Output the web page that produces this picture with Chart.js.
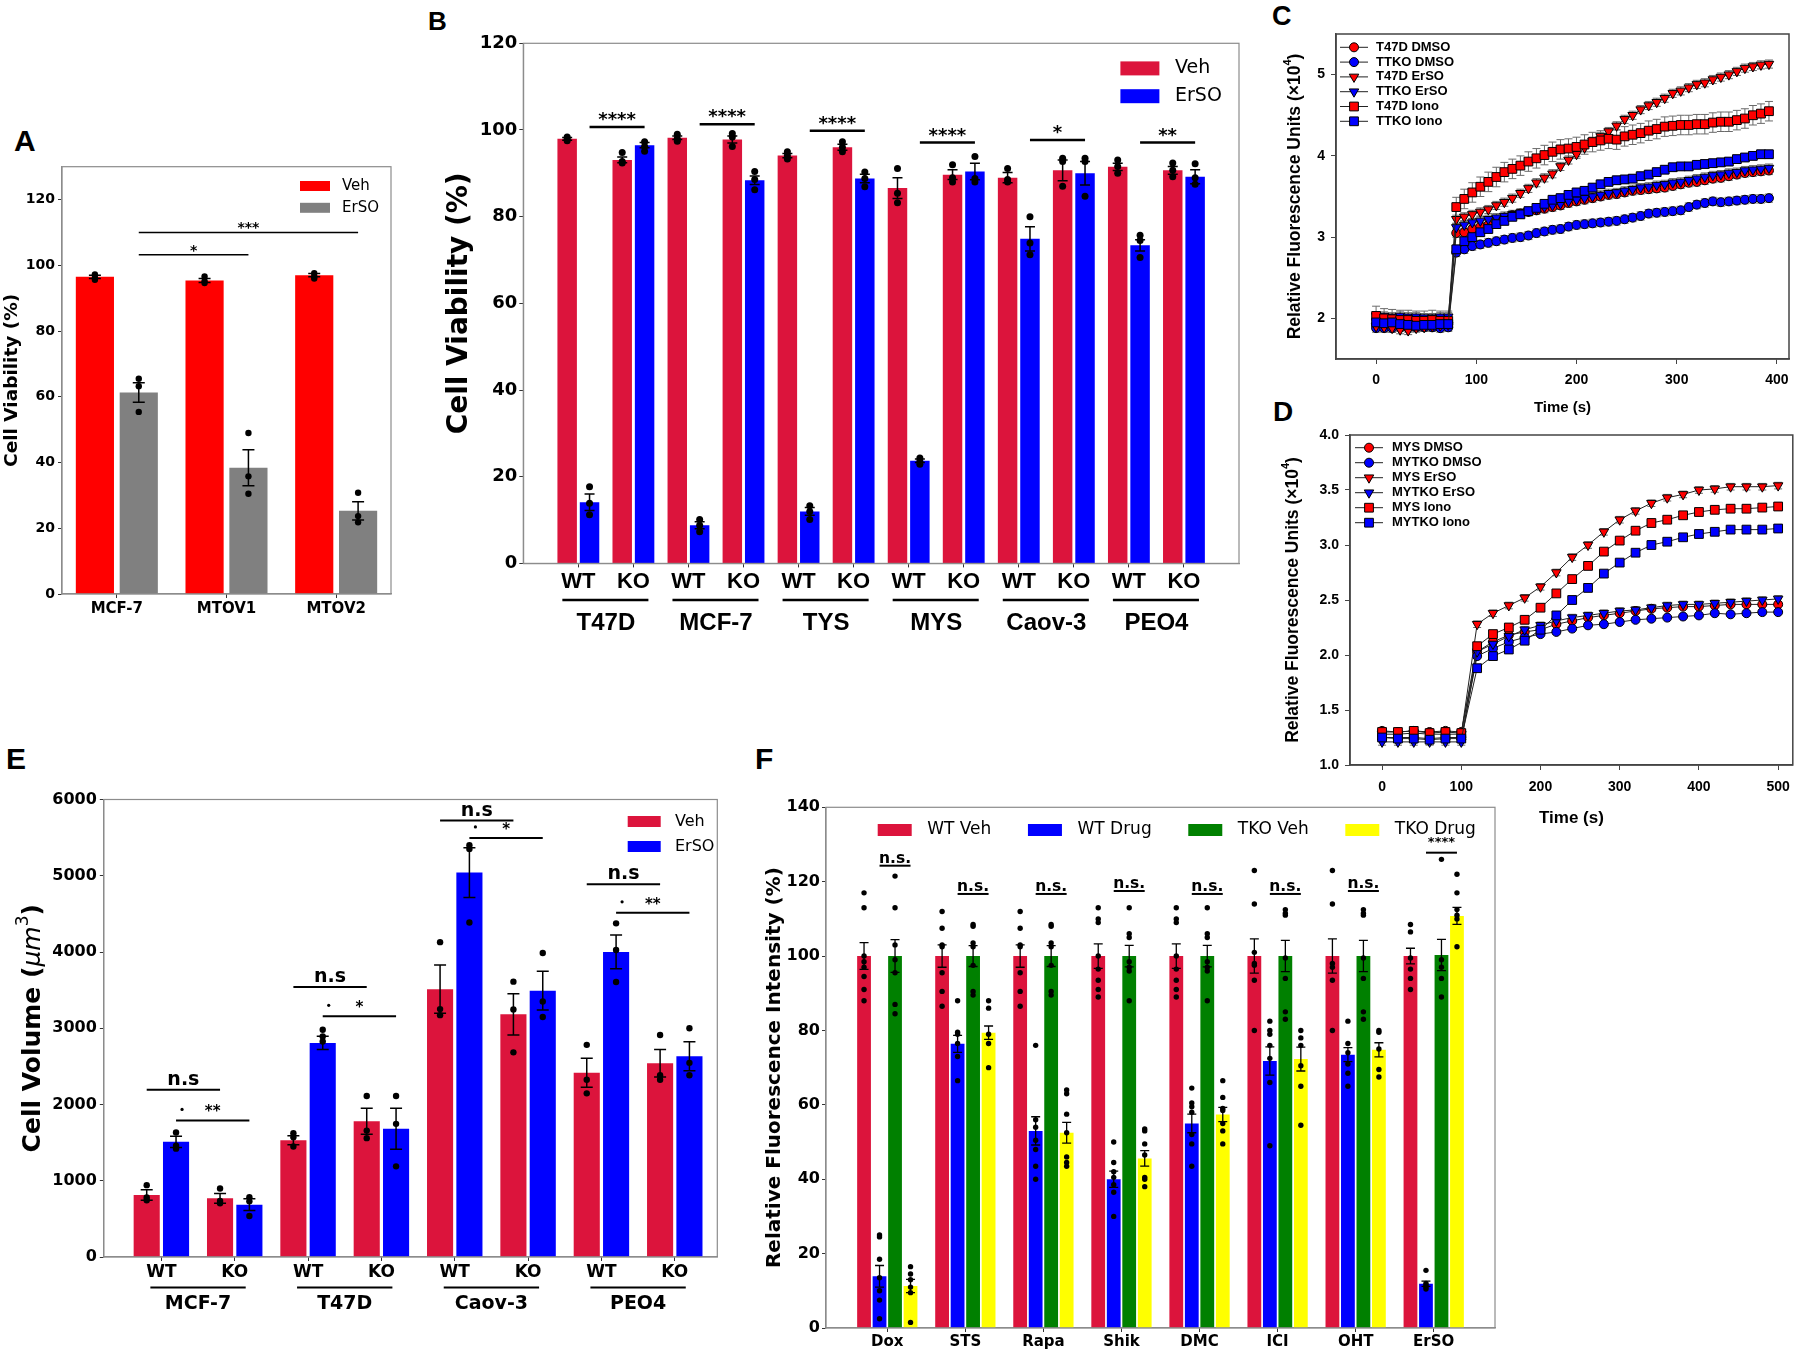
<!DOCTYPE html>
<html>
<head>
<meta charset="utf-8">
<title>ErSO figure</title>
<script src="https://cdn.jsdelivr.net/npm/chart.js@4.4.1/dist/chart.umd.min.js"></script>
<style>
  body { margin: 0; background: #fff; width: 1800px; height: 1350px; position: relative; overflow: hidden; }
  canvas { position: absolute; }
  .lab { position: absolute; font-family: 'Liberation Sans', Arial, sans-serif; font-weight: bold; line-height: 1; color: #000; }
</style>
</head>
<body>
<div class="lab" style="left:14px;top:126px;font-size:30px">A</div>
<div class="lab" style="left:428px;top:8px;font-size:26px">B</div>
<div class="lab" style="left:1272px;top:3px;font-size:27px">C</div>
<div class="lab" style="left:1273px;top:398px;font-size:28px">D</div>
<div class="lab" style="left:6px;top:744px;font-size:30px">E</div>
<div class="lab" style="left:755px;top:744px;font-size:30px">F</div>

<canvas id="chartA" width="400" height="500" style="left:0;top:140px"></canvas>
<canvas id="chartB" width="830" height="680" style="left:420px;top:0"></canvas>
<canvas id="chartC" width="520" height="430" style="left:1280px;top:0"></canvas>
<canvas id="chartD" width="520" height="420" style="left:1280px;top:420px"></canvas>
<canvas id="chartE" width="740" height="610" style="left:0;top:740px"></canvas>
<canvas id="chartF" width="1060" height="570" style="left:740px;top:780px"></canvas>

<script>
// ---- Panel A: cell viability, MCF-7 / MTOV lines
const catsA = ['MCF-7', 'MTOV1', 'MTOV2'];
const vehA = [96.5, 95.4, 97.0];
const ersoA = [61.3, 38.4, 25.3];
const vehAErr = [0.5, 0.6, 0.5];
const ersoAErr = [3.0, 5.5, 2.8];
const vehADots = [[97.2, 96.2, 95.6], [96.6, 95.2, 94.6], [97.6, 96.6, 96.0]];
const ersoADots = [[65.5, 63.2, 55.4], [49.0, 35.8, 30.5], [30.8, 23.7, 21.8]];
const sigAEnd = [1, 2];
const sigAY = [103.2, 110];
const sigALabel = ['*', '***'];

// ---- Panel B: WT vs KO viability
const groupsB = ['WT', 'KO', 'WT', 'KO', 'WT', 'KO', 'WT', 'KO', 'WT', 'KO', 'WT', 'KO'];
const linesB = ['T47D', 'MCF-7', 'TYS', 'MYS', 'Caov-3', 'PEO4'];
const vehB = [97.95, 93.1, 98.2, 97.8, 94.1, 96.0, 86.6, 89.7, 89.0, 90.7, 91.5, 90.7];
const ersoB = [14.1, 96.5, 8.8, 88.4, 12.0, 88.8, 23.7, 90.4, 74.9, 90.0, 73.4, 89.2];
const vehBErr = [0.3, 0.65, 0.4, 0.8, 0.5, 0.7, 2.4, 1.1, 1.2, 2.4, 0.85, 0.9];
const ersoBErr = [1.9, 0.6, 0.8, 1.0, 0.9, 1.0, 0.4, 1.9, 2.8, 2.7, 1.3, 1.6];
const vehBDots = [[98.4, 97.9, 97.5], [94.8, 92.7, 92.4], [99.0, 98.0, 97.4], [99.2, 98.4, 96.2],
  [95.0, 94.1, 93.3], [97.3, 96.0, 95.0], [91.1, 85.4, 83.2], [92.0, 89.0, 88.0],
  [91.1, 88.6, 88.0], [93.5, 92.7, 87.0], [93.1, 91.6, 90.0], [92.4, 90.7, 89.2]];
const ersoBDots = [[17.7, 13.9, 11.2], [97.3, 96.2, 95.1], [10.1, 8.8, 7.3], [90.4, 88.6, 86.2],
  [13.3, 12.0, 10.1], [90.3, 88.8, 86.9], [24.3, 23.5, 22.9], [93.9, 88.8, 88.0],
  [80.0, 73.9, 71.2], [93.5, 92.7, 84.7], [75.7, 74.5, 70.6], [92.2, 89.0, 87.5]];
const sigBY = [100.7, 101.3, 99.8, 97.1, 97.7, 97.1];
const sigBLabel = ['****', '****', '****', '****', '*', '**'];

// ---- Panel C: T47D / TTKO calcium traces
const timeC = [0, 8, 16, 24, 32, 40, 48, 56, 64, 72, 80, 88, 96, 104, 112, 120, 128, 136, 144, 152,
  160, 168, 176, 184, 192, 200, 208, 216, 224, 232, 240, 248, 256, 264, 272, 280, 288, 296, 304, 312,
  320, 328, 336, 344, 352, 360, 368, 376, 384, 392];
const t47dDmsoC = [1.93, 1.92, 1.92, 1.91, 1.90, 1.91, 1.92, 1.92, 1.93, 1.93, 3.05, 3.06, 3.10, 3.13, 3.15, 3.20, 3.24, 3.27, 3.29, 3.31,
  3.33, 3.35, 3.37, 3.39, 3.42, 3.44, 3.46, 3.48, 3.50, 3.52, 3.53, 3.55, 3.57, 3.58, 3.59, 3.60, 3.61, 3.63, 3.65, 3.67,
  3.68, 3.70, 3.72, 3.73, 3.75, 3.77, 3.79, 3.80, 3.81, 3.82];
const ttkoDmsoC = [1.88, 1.88, 1.88, 1.89, 1.88, 1.89, 1.89, 1.89, 1.88, 1.89, 2.81, 2.85, 2.89, 2.91, 2.93, 2.95, 2.97, 2.99, 3.00, 3.02,
  3.05, 3.07, 3.09, 3.10, 3.13, 3.15, 3.16, 3.17, 3.18, 3.19, 3.20, 3.22, 3.24, 3.26, 3.29, 3.30, 3.31, 3.32, 3.33, 3.37,
  3.40, 3.42, 3.44, 3.43, 3.44, 3.45, 3.46, 3.47, 3.47, 3.48];
const t47dErsoC = [1.90, 1.89, 1.88, 1.86, 1.85, 1.88, 1.89, 1.90, 1.91, 1.92, 3.22, 3.25, 3.28, 3.31, 3.34, 3.39, 3.43, 3.48, 3.54, 3.60,
  3.67, 3.73, 3.78, 3.87, 3.95, 4.02, 4.10, 4.18, 4.24, 4.30, 4.37, 4.45, 4.50, 4.57, 4.62, 4.66, 4.71, 4.77, 4.80, 4.84,
  4.88, 4.90, 4.94, 4.97, 5.00, 5.04, 5.08, 5.10, 5.12, 5.13];
const ttkoErsoC = [2.03, 2.03, 2.02, 2.03, 2.02, 2.02, 2.01, 2.01, 2.02, 2.02, 3.12, 3.15, 3.18, 3.20, 3.22, 3.24, 3.26, 3.28, 3.30, 3.32,
  3.34, 3.37, 3.39, 3.41, 3.44, 3.46, 3.48, 3.50, 3.52, 3.54, 3.55, 3.57, 3.59, 3.61, 3.62, 3.64, 3.65, 3.67, 3.68, 3.70,
  3.72, 3.74, 3.76, 3.77, 3.79, 3.80, 3.82, 3.83, 3.84, 3.85];
const t47dIonoC = [2.03, 2.00, 1.99, 1.98, 1.98, 1.97, 1.97, 1.98, 1.97, 1.97, 3.37, 3.47, 3.55, 3.62, 3.68, 3.74, 3.80, 3.84, 3.88, 3.93,
  3.97, 4.01, 4.05, 4.08, 4.09, 4.11, 4.14, 4.17, 4.19, 4.21, 4.20, 4.24, 4.26, 4.28, 4.31, 4.33, 4.36, 4.37, 4.38, 4.38,
  4.39, 4.39, 4.41, 4.42, 4.42, 4.44, 4.46, 4.50, 4.52, 4.55];
const ttkoIonoC = [1.95, 1.94, 1.95, 1.93, 1.92, 1.91, 1.92, 1.92, 1.93, 1.93, 2.85, 2.95, 3.00, 3.06, 3.10, 3.16, 3.20, 3.25, 3.28, 3.32,
  3.36, 3.41, 3.46, 3.48, 3.52, 3.55, 3.57, 3.61, 3.65, 3.68, 3.70, 3.71, 3.72, 3.75, 3.77, 3.80, 3.83, 3.86, 3.87, 3.87,
  3.89, 3.90, 3.91, 3.92, 3.93, 3.96, 3.98, 4.00, 4.02, 4.02];
const namesC = ['T47D DMSO', 'TTKO DMSO', 'T47D ErSO', 'TTKO ErSO', 'T47D Iono', 'TTKO Iono'];
const errC = [0.05, 0.05, 0.05, 0.05, 0.12, 0.05];
const xTicksC = [0, 100, 200, 300, 400];
const yTicksC = [2, 3, 4, 5];

// ---- Panel D: MYS / MYTKO calcium traces
const timeD = [0, 20, 40, 60, 80, 100, 120, 140, 160, 180, 200, 220, 240, 260, 280, 300, 320, 340, 360, 380, 400, 420, 440, 460, 480, 500];
const mysDmsoD = [1.31, 1.30, 1.31, 1.30, 1.31, 1.30, 2.03, 2.12, 2.18, 2.21, 2.23, 2.28, 2.31, 2.34, 2.36, 2.38, 2.40, 2.42, 2.43, 2.44, 2.44, 2.45, 2.46, 2.46, 2.46, 2.46];
const mytkoDmsoD = [1.25, 1.25, 1.25, 1.24, 1.25, 1.25, 1.99, 2.06, 2.12, 2.16, 2.19, 2.21, 2.24, 2.27, 2.28, 2.30, 2.32, 2.33, 2.34, 2.35, 2.36, 2.38, 2.37, 2.38, 2.39, 2.39];
const mysErsoD = [1.28, 1.28, 1.29, 1.28, 1.28, 1.28, 2.28, 2.38, 2.45, 2.52, 2.62, 2.75, 2.89, 3.00, 3.12, 3.23, 3.31, 3.38, 3.43, 3.46, 3.50, 3.51, 3.53, 3.53, 3.53, 3.54];
const mytkoErsoD = [1.21, 1.21, 1.21, 1.21, 1.21, 1.21, 2.03, 2.10, 2.17, 2.23, 2.27, 2.31, 2.34, 2.36, 2.38, 2.40, 2.41, 2.43, 2.45, 2.46, 2.46, 2.47, 2.48, 2.49, 2.50, 2.51];
const mysIonoD = [1.30, 1.30, 1.31, 1.29, 1.30, 1.29, 2.08, 2.19, 2.25, 2.32, 2.43, 2.56, 2.69, 2.81, 2.94, 3.04, 3.13, 3.20, 3.23, 3.27, 3.30, 3.32, 3.33, 3.33, 3.34, 3.35];
const mytkoIonoD = [1.25, 1.24, 1.24, 1.23, 1.24, 1.24, 1.88, 1.99, 2.05, 2.13, 2.23, 2.36, 2.50, 2.61, 2.74, 2.84, 2.93, 3.00, 3.03, 3.07, 3.10, 3.12, 3.14, 3.14, 3.14, 3.15];
const namesD = ['MYS DMSO', 'MYTKO DMSO', 'MYS ErSO', 'MYTKO ErSO', 'MYS Iono', 'MYTKO Iono'];
const errD = [0.01, 0.01, 0.03, 0.03, 0.015, 0.015];
const xTicksD = [0, 100, 200, 300, 400, 500];
const yTicksD = [1.0, 1.5, 2.0, 2.5, 3.0, 3.5, 4.0];

// ---- Panel E: cell volume
const groupsE = ['WT', 'KO', 'WT', 'KO', 'WT', 'KO', 'WT', 'KO'];
const linesE = ['MCF-7', 'T47D', 'Caov-3', 'PEO4'];
const vehE = [814, 770, 1530, 1781, 3513, 3182, 2417, 2541];
const ersoE = [1510, 686, 2807, 1682, 5042, 3493, 4001, 2634];
const vehEErr = [69, 64, 59, 170, 315, 270, 190, 180];
const ersoEErr = [74, 77, 87, 270, 326, 255, 222, 190];
const vehEDots = [[942, 780, 745], [898, 735, 705], [1623, 1569, 1450], [2111, 1658, 1559],
  [4129, 3251, 3172], [3611, 3246, 2684], [2782, 2324, 2146], [2911, 2383, 2324]];
const ersoEDots = [[1633, 1460, 1421], [784, 730, 538], [2980, 2891, 2827], [2111, 1746, 1189],
  [5400, 5350, 4386], [3986, 3350, 3148], [4376, 4026, 3606], [3000, 2546, 2383]];
const nsEY = [2195, 3542, 5723, 4889];
const starEY = [1791, 3157, 5496, 4514];
const starELabel = ['**', '*', '*', '**'];

// ---- Panel F: relative fluorescence per drug
const drugsF = ['Dox', 'STS', 'Rapa', 'Shik', 'DMC', 'ICI', 'OHT', 'ErSO'];
const wtVehF = [100, 100, 100, 100, 100, 100, 100, 100];
const wtDrugF = [13.9, 76.4, 53.0, 40.0, 55.0, 71.8, 73.5, 11.9];
const tkoVehF = [100, 100, 100, 100, 100, 100, 100, 100.3];
const tkoDrugF = [11.3, 79.4, 52.5, 45.6, 57.4, 72.3, 74.8, 110.8];
const wtVehErrF = [3.6, 3.0, 3.0, 3.3, 3.3, 4.6, 4.6, 2.1];
const wtDrugErrF = [2.9, 2.3, 3.8, 2.2, 2.5, 3.8, 1.9, 0.7];
const tkoVehErrF = [4.4, 2.8, 2.8, 2.9, 2.9, 4.2, 4.2, 4.2];
const tkoDrugErrF = [1.8, 1.8, 2.8, 2.1, 1.9, 3.2, 1.9, 2.3];
const wtVehDotsF = [[117, 113, 100, 98.5, 97, 94.5, 91, 88], [112, 107.5, 103, 102.5, 95.5, 90.5, 86.5],
  [112, 107.5, 103, 102.5, 95.5, 90.5, 86.5], [113, 110, 109, 100, 96.5, 93.5, 91, 89],
  [113, 110, 109, 100, 96.5, 93.5, 91, 89], [123, 114, 101, 98, 97.5, 93.5, 80],
  [123, 114, 98, 97, 93.5, 80], [108.5, 106.5, 99.5, 96.5, 94, 91]];
const wtDrugDotsF = [[25, 24.5, 18.5, 13.5, 10, 7.5, 2.5], [88, 79.5, 79, 76.5, 73, 66.5],
  [76, 56, 54, 50.5, 48, 43.5, 40], [50, 44.5, 42, 40.5, 38.5, 36.5, 30],
  [64.5, 60.5, 59.5, 58, 52, 49.5, 43.5], [82.5, 80, 79, 76, 72.5, 66, 49],
  [82.5, 76.5, 74, 71, 68.5, 65], [15.5, 12, 11.5, 11, 10.5]];
const tkoVehDotsF = [[121.5, 113, 103, 99, 95.5, 87, 84.5], [108.5, 108, 103.5, 102.5, 97.5, 90.5, 89.5],
  [108.5, 108, 103.5, 102.5, 97.5, 90.5, 89.5], [113, 106, 105, 98.5, 97, 96, 88],
  [113, 106, 105, 98.5, 97, 96, 88], [112.5, 111.5, 111, 99.5, 94, 85, 83],
  [112.5, 111.5, 111, 99.5, 94, 85, 83], [126, 99, 97, 94, 89]];
const tkoDrugDotsF = [[16.5, 14.5, 13, 11, 9.5, 1.5], [88, 86, 79, 76.5, 70],
  [64, 63, 57.5, 52.5, 46, 44.5, 43.5], [53.5, 53, 49.5, 46.5, 40.5, 40, 38],
  [66.5, 62, 59, 58.5, 55, 53, 49.5], [80, 78, 76, 70.5, 65, 54.5],
  [80, 79.5, 75, 69.5, 67.5], [122, 117, 112.5, 111, 110, 102.5]];
const nsFY = [124.3, 116.7, 116.7, 117.5, 116.7, 116.7, 117.5];
const starFY = 127.8;

const DV = "'DejaVu Sans', sans-serif";
const AR = "'Liberation Sans', Arial, sans-serif";
Chart.defaults.color = '#000';

function drawRich(ctx, parts, cx, cy, rotate) {
  ctx.save();
  ctx.translate(cx, cy);
  if (rotate) ctx.rotate(-Math.PI / 2);
  let total = 0;
  parts.forEach(pt => { ctx.font = pt.font; pt.w = ctx.measureText(pt.text).width; total += pt.w; });
  let x = -total / 2;
  ctx.textBaseline = 'middle';
  ctx.textAlign = 'left';
  ctx.fillStyle = '#000';
  parts.forEach(pt => { ctx.font = pt.font; ctx.fillText(pt.text, x, pt.dy || 0); x += pt.w; });
  ctx.restore();
}

function marker(ctx, shape, r, x, y, fill) {
  ctx.beginPath();
  if (shape === 'circle') {
    ctx.arc(x, y, r, 0, Math.PI * 2);
  } else if (shape === 'rect') {
    const h = r * Math.SQRT1_2;
    ctx.rect(x - h, y - h, 2 * h, 2 * h);
  } else {
    let rad = Math.PI;
    ctx.moveTo(x + Math.sin(rad) * r, y - Math.cos(rad) * r);
    rad += 2 * Math.PI / 3;
    ctx.lineTo(x + Math.sin(rad) * r, y - Math.cos(rad) * r);
    rad += 2 * Math.PI / 3;
    ctx.lineTo(x + Math.sin(rad) * r, y - Math.cos(rad) * r);
    ctx.closePath();
  }
  ctx.fillStyle = fill;
  ctx.fill();
  ctx.strokeStyle = '#000';
  ctx.lineWidth = 1;
  ctx.stroke();
}

// bar panels: error bars, dots, frame, legend, significance, titles
function barDecor(p) {
  return {
    id: 'barDecor',
    afterDatasetsDraw(chart) {
      const ctx = chart.ctx, ys = chart.scales.y;
      ctx.save();
      p.sets.forEach((s, di) => {
        chart.getDatasetMeta(di).data.forEach((bar, i) => {
          const x = bar.x, v = s.data[i], e = s.err[i];
          const y1 = ys.getPixelForValue(v + e), y2 = ys.getPixelForValue(v - e);
          ctx.strokeStyle = '#000';
          ctx.lineWidth = p.errW;
          ctx.beginPath();
          ctx.moveTo(x, y1); ctx.lineTo(x, y2);
          ctx.moveTo(x - p.cap, y1); ctx.lineTo(x + p.cap, y1);
          ctx.moveTo(x - p.cap, y2); ctx.lineTo(x + p.cap, y2);
          ctx.stroke();
          ctx.fillStyle = '#000';
          s.dots[i].forEach(d => {
            ctx.beginPath();
            ctx.arc(x, ys.getPixelForValue(d), p.dotR, 0, Math.PI * 2);
            ctx.fill();
          });
        });
      });
      ctx.restore();
    },
    afterDraw(chart) {
      const ctx = chart.ctx, a = chart.chartArea, xs = chart.scales.x, ys = chart.scales.y;
      ctx.save();
      ctx.strokeStyle = '#8c8c8c';
      ctx.lineWidth = 1.2;
      ctx.strokeRect(a.left, a.top, a.right - a.left, a.bottom - a.top);

      p.sig.forEach(g => {
        const x1 = chart.getDatasetMeta(g.d1).data[g.g1].x;
        const x2 = chart.getDatasetMeta(g.d2).data[g.g2].x;
        const y = ys.getPixelForValue(g.y);
        ctx.strokeStyle = '#000';
        ctx.lineWidth = g.lw;
        ctx.beginPath(); ctx.moveTo(x1, y); ctx.lineTo(x2, y); ctx.stroke();
        ctx.font = g.font;
        ctx.fillStyle = '#000';
        ctx.textAlign = 'center';
        ctx.textBaseline = 'alphabetic';
        ctx.fillText(g.text, (x1 + x2) / 2, y - g.lift);
        if (g.dot) {
          ctx.beginPath(); ctx.arc(x1 + 6, y - 11, 1.6, 0, Math.PI * 2); ctx.fill();
        }
      });

      const lg = p.legend;
      ctx.font = lg.font;
      ctx.textBaseline = 'middle';
      ctx.textAlign = 'left';
      let lx = lg.horizontal ? a.left + lg.x : a.right - lg.x;
      lg.names.forEach((n, i) => {
        const ly = lg.horizontal ? a.top + lg.y : a.top + lg.y + i * lg.dy;
        ctx.fillStyle = lg.colors[i];
        ctx.fillRect(lx, ly - lg.bh / 2, lg.bw, lg.bh);
        ctx.fillStyle = '#000';
        ctx.fillText(n, lx + lg.tx, ly);
        if (lg.horizontal) lx += lg.tx + ctx.measureText(n).width + lg.gap;
      });

      drawRich(ctx, p.yTitle, p.yTitleX, (a.top + a.bottom) / 2, true);

      if (p.groups) {
        const gr = p.groups;
        gr.names.forEach((n, k) => {
          const x1 = xs.getPixelForValue(2 * k) - gr.padL;
          const x2 = xs.getPixelForValue(2 * k + 1) + gr.padR;
          ctx.strokeStyle = '#000';
          ctx.lineWidth = gr.lw;
          ctx.beginPath(); ctx.moveTo(x1, gr.y); ctx.lineTo(x2, gr.y); ctx.stroke();
          ctx.font = gr.font;
          ctx.fillStyle = '#000';
          ctx.textAlign = 'center';
          ctx.textBaseline = 'middle';
          ctx.fillText(n, (xs.getPixelForValue(2 * k) + xs.getPixelForValue(2 * k + 1)) / 2, gr.nameY);
        });
      }
      ctx.restore();
    }
  };
}

function barPanel(id, p) {
  const cv = document.getElementById(id);
  const W = cv.width, H = cv.height;
  const linearX = p.xMin !== undefined;
  const datasets = p.sets.map(s => ({
    label: s.label,
    data: linearX ? s.data.map((v, i) => ({ x: i, y: v })) : s.data,
    backgroundColor: s.color,
    borderWidth: 0,
    barPercentage: p.barPct,
    categoryPercentage: p.catPct
  }));
  const xScale = {
    offset: linearX ? false : true,
    ticks: { font: p.xFont, padding: p.xPad, color: '#000', autoSkip: false, maxRotation: 0, minRotation: 0 },
    grid: { display: true, drawOnChartArea: false, drawTicks: true, tickLength: 4, tickColor: '#333', offset: false },
    border: { display: true, color: '#8c8c8c', width: 1.2 },
    afterFit: s => { s.height = H - p.area.bottom; }
  };
  if (linearX) {
    xScale.type = 'linear';
    xScale.min = p.xMin;
    xScale.max = p.xMax;
    xScale.afterBuildTicks = s => { s.ticks = p.labels.map((_, i) => ({ value: i })); };
    xScale.ticks.callback = v => p.labels[v];
  } else {
    xScale.type = 'category';
  }
  const yScale = {
    type: 'linear',
    min: 0,
    max: p.yMax,
    afterBuildTicks: s => { s.ticks = p.yTicks.map(v => ({ value: v })); },
    ticks: { font: p.yFont, padding: p.yPad, color: '#000', callback: v => String(v) },
    grid: { display: true, drawOnChartArea: false, drawTicks: true, tickLength: 4, tickColor: '#333' },
    border: { display: true, color: '#8c8c8c', width: 1.2 },
    afterFit: s => { s.width = p.area.left; }
  };
  return new Chart(cv, {
    type: 'bar',
    data: { labels: linearX ? undefined : p.labels, datasets },
    options: {
      responsive: false,
      animation: false,
      devicePixelRatio: 1,
      layout: { padding: { left: 0, top: p.area.top, right: W - p.area.right, bottom: 0 } },
      plugins: { legend: { display: false }, tooltip: { enabled: false } },
      scales: { x: xScale, y: yScale }
    },
    plugins: [barDecor(p)]
  });
}

// line panels (C, D)
function lineDecor(p) {
  return {
    id: 'lineDecor',
    beforeDatasetsDraw(chart) {
      const ctx = chart.ctx, xs = chart.scales.x, ys = chart.scales.y;
      ctx.save();
      ctx.strokeStyle = '#6a6a6a';
      ctx.lineWidth = 1;
      p.series.forEach((s, k) => {
        const e = p.err[k];
        s.forEach((v, i) => {
          const x = xs.getPixelForValue(p.time[i]);
          const y1 = ys.getPixelForValue(v + e), y2 = ys.getPixelForValue(v - e);
          ctx.beginPath();
          ctx.moveTo(x, y1); ctx.lineTo(x, y2);
          ctx.moveTo(x - 4, y1); ctx.lineTo(x + 4, y1);
          ctx.moveTo(x - 4, y2); ctx.lineTo(x + 4, y2);
          ctx.stroke();
        });
      });
      ctx.restore();
    },
    afterDraw(chart) {
      const ctx = chart.ctx, a = chart.chartArea;
      ctx.save();
      ctx.strokeStyle = '#444';
      ctx.lineWidth = 1.5;
      ctx.strokeRect(a.left, a.top, a.right - a.left, a.bottom - a.top);
      ctx.textBaseline = 'middle';
      ctx.textAlign = 'left';
      p.names.forEach((n, k) => {
        const y = a.top + p.lg.y + k * p.lg.dy;
        ctx.strokeStyle = '#222';
        ctx.lineWidth = 1;
        ctx.beginPath(); ctx.moveTo(a.left + p.lg.x1, y); ctx.lineTo(a.left + p.lg.x2, y); ctx.stroke();
        marker(ctx, p.shapes[k], p.radii[k], a.left + (p.lg.x1 + p.lg.x2) / 2, y, p.colors[k]);
        ctx.fillStyle = '#000';
        ctx.font = 'bold 13px ' + AR;
        ctx.fillText(n, a.left + p.lg.tx, y);
      });
      drawRich(ctx, [
        { text: 'Relative Fluorescence Units (\u00d710', font: 'bold 17.5px ' + AR },
        { text: '4', font: 'bold 11px ' + AR, dy: -7 },
        { text: ')', font: 'bold 17.5px ' + AR }
      ], p.yTitleX, (a.top + a.bottom) / 2, true);
      ctx.font = p.xTitleFont;
      ctx.textAlign = 'center';
      ctx.fillStyle = '#000';
      ctx.fillText('Time (s)', (a.left + a.right) / 2, p.xTitleY);
      ctx.restore();
    }
  };
}

function linePanel(id, p) {
  const cv = document.getElementById(id);
  const W = cv.width, H = cv.height;
  const n = p.series.length;
  const datasets = p.series.map((s, k) => ({
    label: p.names[k],
    data: p.time.map((t, i) => ({ x: t, y: s[i] })),
    borderColor: '#222',
    borderWidth: 1,
    pointStyle: p.shapes[k],
    pointRotation: p.shapes[k] === 'triangle' ? 180 : 0,
    pointRadius: p.radii[k],
    pointBackgroundColor: p.colors[k],
    pointBorderColor: '#000',
    pointBorderWidth: 1,
    tension: 0,
    fill: false,
    order: n - k
  }));
  const tickStyle = { display: true, drawOnChartArea: false, drawTicks: true, tickLength: 5, tickColor: '#444' };
  return new Chart(cv, {
    type: 'line',
    data: { datasets },
    options: {
      responsive: false,
      animation: false,
      devicePixelRatio: 1,
      layout: { padding: { left: 0, top: p.area.top, right: W - p.area.right, bottom: 0 } },
      plugins: { legend: { display: false }, tooltip: { enabled: false } },
      scales: {
        x: {
          type: 'linear', min: p.xMin, max: p.xMax,
          afterBuildTicks: s => { s.ticks = p.xTicks.map(v => ({ value: v })); },
          ticks: { font: { family: AR, size: 14, weight: 'bold' }, padding: p.xPad, color: '#000', maxRotation: 0, callback: v => String(v) },
          grid: tickStyle,
          border: { display: true, color: '#444', width: 1.5 },
          afterFit: s => { s.height = H - p.area.bottom; }
        },
        y: {
          type: 'linear', min: p.yMin, max: p.yMax,
          afterBuildTicks: s => { s.ticks = p.yTicks.map(v => ({ value: v })); },
          ticks: { font: { family: AR, size: 14, weight: 'bold' }, padding: p.yPad, color: '#000', callback: p.yFmt },
          grid: tickStyle,
          border: { display: true, color: '#444', width: 1.5 },
          afterFit: s => { s.width = p.area.left; }
        }
      }
    },
    plugins: [lineDecor(p)]
  });
}

// ---- build panels
barPanel('chartA', {
  area: { left: 62, top: 26.7, right: 391, bottom: 454 },
  labels: catsA,
  sets: [
    { label: 'Veh', data: vehA, err: vehAErr, dots: vehADots, color: '#ff0000' },
    { label: 'ErSO', data: ersoA, err: ersoAErr, dots: ersoADots, color: '#808080' }
  ],
  catPct: 0.8, barPct: 0.87,
  yMax: 130, yTicks: [0, 20, 40, 60, 80, 100, 120],
  xFont: { family: DV, size: 15, weight: 'bold' }, xPad: 2,
  yFont: { family: DV, size: 14, weight: 'bold' }, yPad: 3,
  errW: 1.5, cap: 6, dotR: 3.2,
  sig: sigAY.map((y, i) => ({ g1: 0, d1: 1, g2: sigAEnd[i], d2: 1, y, text: sigALabel[i], font: 'bold 14px ' + DV, lift: 0, lw: 1.5 })),
  legend: { names: ['Veh', 'ErSO'], colors: ['#ff0000', '#808080'], x: 91, y: 19.3, dy: 21.8, bw: 30, bh: 10, tx: 42, font: '15px ' + DV },
  yTitle: [{ text: 'Cell Viability (%)', font: 'bold 18.5px ' + DV }],
  yTitleX: 12
});

barPanel('chartB', {
  area: { left: 103.3, top: 43.3, right: 819, bottom: 563.4 },
  labels: groupsB,
  xMin: -1, xMax: 12,
  sets: [
    { label: 'Veh', data: vehB, err: vehBErr, dots: vehBDots, color: '#dc143c' },
    { label: 'ErSO', data: ersoB, err: ersoBErr, dots: ersoBDots, color: '#0000ff' }
  ],
  catPct: 0.813, barPct: 0.87,
  yMax: 120, yTicks: [0, 20, 40, 60, 80, 100, 120],
  xFont: { family: AR, size: 22, weight: 'bold' }, xPad: 1,
  yFont: { family: DV, size: 18, weight: 'bold' }, yPad: 2,
  errW: 1.5, cap: 5, dotR: 3.5,
  sig: sigBY.map((y, k) => ({ g1: 2 * k, d1: 1, g2: 2 * k + 1, d2: 1, y, text: sigBLabel[k], font: 'bold 18px ' + DV, lift: 2, lw: 2.5 })),
  legend: { names: ['Veh', 'ErSO'], colors: ['#dc143c', '#0000ff'], x: 118.6, y: 25.1, dy: 27.8, bw: 39, bh: 14, tx: 54.6, font: '19px ' + DV },
  yTitle: [{ text: 'Cell Viability (%)', font: 'bold 28px ' + DV }],
  yTitleX: 40,
  groups: { names: linesB, y: 600, nameY: 623, font: 'bold 24px ' + AR, lw: 2.5, padL: 16, padR: 15 }
});

linePanel('chartC', {
  area: { left: 56, top: 34, right: 509, bottom: 359 },
  time: timeC,
  series: [t47dDmsoC, ttkoDmsoC, t47dErsoC, ttkoErsoC, t47dIonoC, ttkoIonoC],
  names: namesC,
  err: errC,
  colors: ['#ff0000', '#0000ff', '#ff0000', '#0000ff', '#ff0000', '#0000ff'],
  shapes: ['circle', 'circle', 'triangle', 'triangle', 'rect', 'rect'],
  radii: [4.5, 4.5, 5.5, 5.5, 6.2, 6.2],
  xMin: -40, xMax: 412, xTicks: xTicksC, xPad: 8,
  yMin: 1.5, yMax: 5.5, yTicks: yTicksC, yPad: 6, yFmt: v => String(v),
  lg: { y: 13.3, dy: 14.8, x1: 4, x2: 32, tx: 40 },
  yTitleX: 15,
  xTitleY: 408, xTitleFont: 'bold 15px ' + AR
});

linePanel('chartD', {
  area: { left: 70, top: 15, right: 514, bottom: 345 },
  time: timeD,
  series: [mysDmsoD, mytkoDmsoD, mysErsoD, mytkoErsoD, mysIonoD, mytkoIonoD],
  names: namesD,
  err: errD,
  colors: ['#ff0000', '#0000ff', '#ff0000', '#0000ff', '#ff0000', '#0000ff'],
  shapes: ['circle', 'circle', 'triangle', 'triangle', 'rect', 'rect'],
  radii: [4.5, 4.5, 5.5, 5.5, 6.2, 6.2],
  xMin: -40.5, xMax: 518.5, xTicks: xTicksD, xPad: 9,
  yMin: 1.0, yMax: 4.0, yTicks: yTicksD, yPad: 6, yFmt: v => v.toFixed(1),
  lg: { y: 12.7, dy: 15.0, x1: 5, x2: 33, tx: 42 },
  yTitleX: 13,
  xTitleY: 398, xTitleFont: 'bold 17px ' + AR
});

barPanel('chartE', {
  area: { left: 103.8, top: 59.5, right: 717.3, bottom: 517 },
  labels: groupsE,
  xMin: -0.785, xMax: 7.58,
  sets: [
    { label: 'Veh', data: vehE, err: vehEErr, dots: vehEDots, color: '#dc143c' },
    { label: 'ErSO', data: ersoE, err: ersoEErr, dots: ersoEDots, color: '#0000ff' }
  ],
  catPct: 0.8, barPct: 0.89,
  yMax: 6000, yTicks: [0, 1000, 2000, 3000, 4000, 5000, 6000],
  xFont: { family: DV, size: 17, weight: 'bold' }, xPad: 1,
  yFont: { family: DV, size: 16, weight: 'bold' }, yPad: 3,
  errW: 1.5, cap: 6, dotR: 3.2,
  sig: nsEY.map((y, k) => ({ g1: 2 * k, d1: 0, g2: 2 * k + 1, d2: 0, y, text: 'n.s', font: 'bold 19px ' + DV, lift: 5, lw: 2 }))
    .concat(starEY.map((y, k) => ({ g1: 2 * k, d1: 1, g2: 2 * k + 1, d2: 1, y, text: starELabel[k], font: 'bold 15px ' + DV, lift: 4, lw: 2, dot: true }))),
  legend: { names: ['Veh', 'ErSO'], colors: ['#dc143c', '#0000ff'], x: 89.6, y: 22, dy: 25, bw: 33, bh: 11, tx: 47.3, font: '16px ' + DV },
  yTitle: [
    { text: 'Cell Volume (', font: 'bold 25px ' + DV },
    { text: '\u03bcm', font: 'italic 25px ' + DV },
    { text: '3', font: '17px ' + DV, dy: -9 },
    { text: ')', font: 'bold 25px ' + DV }
  ],
  yTitleX: 33,
  groups: { names: linesE, y: 547.5, nameY: 564, font: 'bold 19px ' + DV, lw: 2, padL: 11, padR: 11 }
});

barPanel('chartF', {
  area: { left: 86, top: 27.3, right: 755, bottom: 548 },
  labels: drugsF,
  xMin: -0.785, xMax: 7.785,
  sets: [
    { label: 'WT Veh', data: wtVehF, err: wtVehErrF, dots: wtVehDotsF, color: '#dc143c' },
    { label: 'WT Drug', data: wtDrugF, err: wtDrugErrF, dots: wtDrugDotsF, color: '#0000ff' },
    { label: 'TKO Veh', data: tkoVehF, err: tkoVehErrF, dots: tkoVehDotsF, color: '#008000' },
    { label: 'TKO Drug', data: tkoDrugF, err: tkoDrugErrF, dots: tkoDrugDotsF, color: '#ffff00' }
  ],
  catPct: 0.794, barPct: 0.89,
  yMax: 140, yTicks: [0, 20, 40, 60, 80, 100, 120, 140],
  xFont: { family: DV, size: 15, weight: 'bold' }, xPad: 1,
  yFont: { family: DV, size: 16, weight: 'bold' }, yPad: 2,
  errW: 1.3, cap: 4.5, dotR: 2.7,
  sig: nsFY.map((y, k) => ({ g1: k, d1: 1, g2: k, d2: 3, y, text: 'n.s.', font: 'bold 15.5px ' + DV, lift: 3, lw: 2 }))
    .concat([{ g1: 7, d1: 1, g2: 7, d2: 3, y: starFY, text: '****', font: 'bold 13px ' + DV, lift: 7, lw: 2 }]),
  legend: { horizontal: true, names: ['WT Veh', 'WT Drug', 'TKO Veh', 'TKO Drug'], colors: ['#dc143c', '#0000ff', '#008000', '#ffff00'],
    x: 51.7, y: 22.7, bw: 34, bh: 12, tx: 49.5, gap: 36.6, font: '17px ' + DV },
  yTitle: [{ text: 'Relative Fluorescence Intensity (%)', font: 'bold 20px ' + DV }],
  yTitleX: 34.5
});
</script>
</body>
</html>
